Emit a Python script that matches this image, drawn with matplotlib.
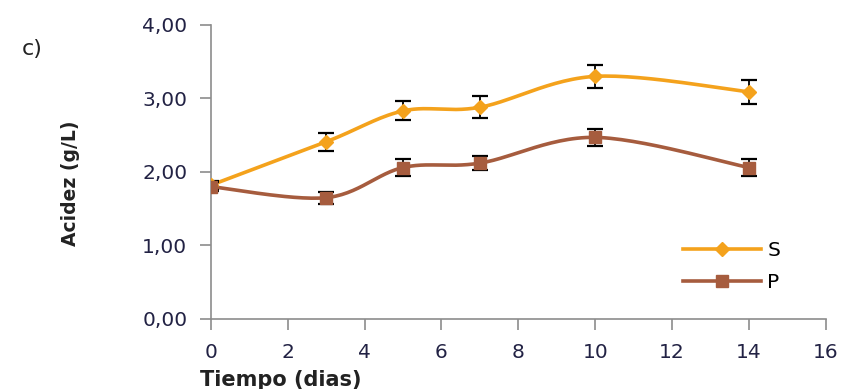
import numpy as np
import matplotlib.pyplot as plt
from matplotlib.ticker import FuncFormatter

# ==================================
# Data
# ==================================

dias = [0, 3, 5, 7, 10, 14]

acidez_s = [1.82, 2.41, 2.83, 2.88, 3.30, 3.09]
error_s = [0.06, 0.12, 0.13, 0.15, 0.16, 0.16]

acidez_p = [1.80, 1.65, 2.06, 2.12, 2.47, 2.06]
error_p = [0.06, 0.08, 0.11, 0.10, 0.12, 0.11]

COLOR_S = "#F4A21C"
COLOR_P = "#A65C3E"


def suavizar(x, y, pasos=30):
    # Catmull-Rom curve through the points (smoothed line)
    x = np.asarray(x, float)
    y = np.asarray(y, float)
    px = np.concatenate([[x[0]], x, [x[-1]]])
    py = np.concatenate([[y[0]], y, [y[-1]]])
    xs, ys = [], []
    t = np.linspace(0, 1, pasos)
    for i in range(1, len(px) - 2):
        m0x = (px[i + 1] - px[i - 1]) / 2
        m1x = (px[i + 2] - px[i]) / 2
        m0y = (py[i + 1] - py[i - 1]) / 2
        m1y = (py[i + 2] - py[i]) / 2
        h00 = 2 * t**3 - 3 * t**2 + 1
        h10 = t**3 - 2 * t**2 + t
        h01 = -2 * t**3 + 3 * t**2
        h11 = t**3 - t**2
        xs.append(h00 * px[i] + h10 * m0x + h01 * px[i + 1] + h11 * m1x)
        ys.append(h00 * py[i] + h10 * m0y + h01 * py[i + 1] + h11 * m1y)
    return np.concatenate(xs), np.concatenate(ys)


fig = plt.figure(figsize=(8.47, 3.89), dpi=100)
ax = fig.add_axes([0.249, 0.18, 0.726, 0.756])

for y, err, color, marker, size, label in [
    (acidez_s, error_s, COLOR_S, "D", 7.5, "S"),
    (acidez_p, error_p, COLOR_P, "s", 8.5, "P"),
]:
    sx, sy = suavizar(dias, y)
    ax.plot(sx, sy, color=color, lw=2.6, zorder=2)
    ax.errorbar(dias, y, yerr=err, fmt="none", ecolor="black",
                elinewidth=1.3, capsize=6, capthick=1.6, zorder=3)
    ax.plot(dias, y, linestyle="none", marker=marker, markersize=size,
            color=color, zorder=4)
    ax.plot([], [], color=color, lw=2.6, marker=marker, markersize=size,
            label=label)

ax.set_xlim(0, 16)
ax.set_ylim(0, 4)
ax.set_xticks(range(0, 17, 2))
ax.set_yticks([0, 1, 2, 3, 4])
ax.yaxis.set_major_formatter(FuncFormatter(lambda v, p: f"{v:.2f}".replace(".", ",")))

for side in ["top", "right"]:
    ax.spines[side].set_visible(False)
for side in ["left", "bottom"]:
    ax.spines[side].set_color("#8C8C8C")
    ax.spines[side].set_linewidth(1.2)

ax.tick_params(axis="both", direction="out", length=8, width=1.2,
               color="#8C8C8C", labelsize=14.5, labelcolor="#222244")
ax.tick_params(axis="x", pad=9)
ax.tick_params(axis="y", pad=9)

ax.legend(loc="lower right", bbox_to_anchor=(0.955, 0.03), frameon=False,
          fontsize=14.5, handlelength=3.9, labelspacing=0.65,
          handletextpad=0.3)

fig.text(0.083, 0.53, "Acidez (g/L)", rotation=90, ha="center", va="center",
         fontsize=13.5, fontweight="bold", color="#222222")
fig.text(0.332, 0.022, "Tiempo (dias)", ha="center", va="center",
         fontsize=15, fontweight="bold", color="#222222")
fig.text(0.026, 0.875, "c)", ha="left", va="center", fontsize=16,
         color="#222222")

fig.savefig("out.png", dpi=100)
